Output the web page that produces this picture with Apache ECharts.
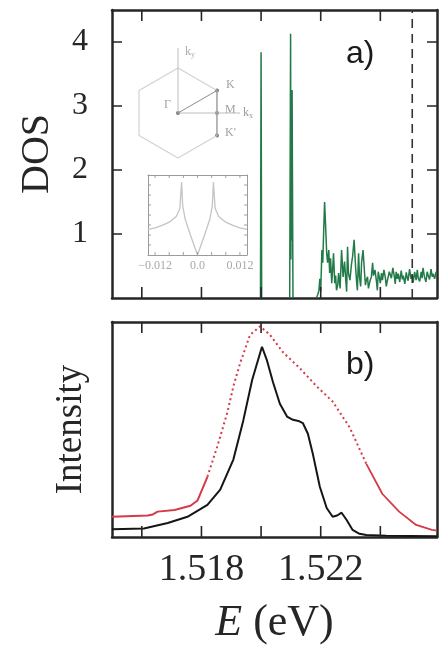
<!DOCTYPE html>
<html>
<head>
<meta charset="utf-8">
<script src="https://cdn.jsdelivr.net/npm/echarts@6/dist/echarts.min.js"></script>
<style>
  html, body { margin: 0; padding: 0; background: #fff; }
  #chart { width: 440px; height: 651px; }
</style>
</head>
<body>
<div id="chart"></div>
<script>
// ---- a) density of states (eV, arbitrary units); null breaks the trace ----
const dosEnergy = [
  1.51998, 1.52000, 1.52002, 1.52030,
  1.52096, 1.52099, 1.52100, 1.52101, 1.52102, 1.52104, 1.52107, 1.52150,
  1.52185, 1.52190, 1.52194, 1.52197, 1.52200, 1.52204, 1.52207, 1.52210, 1.52213, 1.52217, 1.52220,
  1.52223, 1.52227, 1.52230, 1.52233, 1.52237, 1.52240, 1.52243, 1.52247, 1.52250, 1.52253,
  1.52257, 1.52260, 1.52265, 1.52270, 1.52275, 1.52280, 1.52284, 1.52287, 1.52290, 1.52293,
  1.52298, 1.52303, 1.52307, 1.52312, 1.52317, 1.52320, 1.52323, 1.52327, 1.52330, 1.52334,
  1.52337, 1.52342, 1.52347, 1.52350, 1.52353, 1.52357, 1.52360, 1.52365, 1.52370, 1.52374,
  1.52377, 1.52382, 1.52387, 1.52390, 1.52393, 1.52397, 1.52400, 1.52404, 1.52407, 1.52412,
  1.52417, 1.52420, 1.52423, 1.52430, 1.52437, 1.52442, 1.52447, 1.52450, 1.52453, 1.52457,
  1.52460, 1.52465, 1.52470, 1.52474, 1.52477, 1.52482, 1.52487, 1.52490, 1.52493, 1.52498,
  1.52503, 1.52507, 1.52510, 1.52515, 1.52520, 1.52524, 1.52527, 1.52532, 1.52537, 1.52540,
  1.52543, 1.52548, 1.52553, 1.52557, 1.52560, 1.52565, 1.52570, 1.52574, 1.52577, 1.52582, 1.52587
];
const dosValue = [
  0, 3.84, 0, null,
  0, 4.13, 0.6, 1.84, 0.9, 3.25, 0, null,
  0, 0.05, 0.12, 0.30, 0.10, 0.75, 0.55, 1.05, 1.50, 1.06, 0.70,
  0.55, 0.75, 0.39, 0.62, 0.23, 0.45, 0.70, 0.23, 0.35, 0.12,
  0.20, 0.39, 0.15, 0.75, 0.33, 0.57, 0.28, 0.10, 0.80, 0.39,
  0.28, 0.52, 0.65, 0.91, 0.48, 0.28, 0.12, 0.70, 0.33, 0.18,
  0.55, 0.75, 0.39, 0.20, 0.28, 0.33, 0.15, 0.26, 0.33, 0.55,
  0.35, 0.44, 0.26, 0.12, 0.41, 0.31, 0.23, 0.39, 0.28, 0.44,
  0.31, 0.18, 0.26, 0.41, 0.31, 0.47, 0.33, 0.22, 0.41, 0.30,
  0.38, 0.25, 0.43, 0.29, 0.35, 0.22, 0.40, 0.32, 0.27, 0.45,
  0.30, 0.36, 0.24, 0.41, 0.28, 0.44, 0.31, 0.26, 0.41, 0.31,
  0.47, 0.33, 0.25, 0.41, 0.36, 0.29, 0.45, 0.33, 0.38, 0.30, 0.41
];
const gapLine = 1.52507;           // dashed reference energy
const dosRange = [0, 4.5];

// ---- b) emission spectra (normalised) ----
const blackEnergy = [
  1.51500, 1.51607, 1.51687, 1.51753, 1.51820, 1.51863, 1.51907, 1.51940, 1.51970, 1.52003,
  1.52020, 1.52040, 1.52063, 1.52087, 1.52107, 1.52125, 1.52140, 1.52157, 1.52173, 1.52197,
  1.52220, 1.52240, 1.52255, 1.52270, 1.52287, 1.52307, 1.52330, 1.52353, 1.52420, 1.52500, 1.52590
];
const blackValue = [
  0.036, 0.040, 0.065, 0.094, 0.149, 0.220, 0.360, 0.540, 0.730, 0.885,
  0.820, 0.720, 0.620, 0.560, 0.545, 0.540, 0.530, 0.480, 0.390, 0.234,
  0.135, 0.094, 0.100, 0.113, 0.079, 0.033, 0.015, 0.009, 0.006, 0.005, 0.004
];
const redEnergy = [
  1.51500, 1.51620, 1.51637, 1.51653, 1.51710, 1.51763, 1.51787, 1.51820, 1.51853, 1.51887,
  1.51907, 1.51930, 1.51963, 1.51997, 1.52030, 1.52073, 1.52130, 1.52187, 1.52240, 1.52297,
  1.52353, 1.52407, 1.52463, 1.52520, 1.52573, 1.52590
];
const redValue = [
  0.094, 0.100, 0.105, 0.118, 0.126, 0.145, 0.170, 0.280, 0.420, 0.580,
  0.700, 0.810, 0.940, 0.980, 0.940, 0.860, 0.785, 0.700, 0.630, 0.510,
  0.340, 0.200, 0.118, 0.056, 0.033, 0.030
];
const redDottedFrom = 1.5182, redDottedTo = 1.52353;
const intensityRange = [0, 1];

// ---- inset: Brillouin-zone sketch ----
const hexX = [0, 0.866, 0.866, 0, -0.866, -0.866, 0];
const hexY = [1, 0.5, -0.5, -1, -0.5, 0.5, 1];
const bzPointName = ['Γ', 'K', 'M', "K'"];
const bzPointX = [0, 0.866, 0.866, 0.866];
const bzPointY = [0, 0.5, 0, -0.5];

// ---- inset: low-energy DOS ----
const insetE = [-0.014, -0.012, -0.010, -0.008, -0.006, -0.005, -0.0045, -0.0042, -0.0035, -0.002, 0,
                0.002, 0.0035, 0.0042, 0.0045, 0.005, 0.006, 0.008, 0.010, 0.012, 0.014];
const insetV = [0.32, 0.34, 0.37, 0.41, 0.48, 0.58, 0.91, 0.62, 0.45, 0.25, 0,
                0.25, 0.45, 0.62, 0.91, 0.58, 0.48, 0.41, 0.37, 0.34, 0.32];
const insetRangeE = [-0.014, 0.014], insetRangeV = [0, 1];
const insetLabels = [-0.012, 0, 0.012];
const insetXTicks = [-0.012, -0.008, -0.004, 0, 0.004, 0.008, 0.012];
const insetYTicks = [0.125, 0.25, 0.375, 0.5, 0.625, 0.75, 0.875];

// ---- energy axis ----
const eRange = [1.5150, 1.5259];
const xTicks = [1.516, 1.518, 1.520, 1.522, 1.524];
const xLabels = [1.518, 1.522];
const dosTicks = [1, 2, 3, 4];

// ---- layout ----
const gridA = { left: 112, top: 10, width: 325, height: 288 };
const gridB = { left: 112, top: 322, width: 325, height: 215 };
const gridBZ = { left: 124, top: 41, width: 135, height: 126 };
const gridIn = { left: 148, top: 175, width: 99, height: 80 };

const zip = (a, b) => a.map((v, i) => [v, b[i]]);
const serif = 'Liberation Serif';
const ink = '#262626';

const redAll = zip(redEnergy, redValue);
const redSolidLeft = redAll.filter(p => p[0] <= redDottedFrom + 1e-9);
const redDotted = redAll.filter(p => p[0] >= redDottedFrom - 1e-9 && p[0] <= redDottedTo + 1e-9);
const redSolidRight = redAll.filter(p => p[0] >= redDottedTo - 1e-9);

// inward tick marks on two opposite edges, as short broken line segments;
// tick length (px) is turned into data units with the grid size
function tickSegments(dir, values, xr, yr, grid, px) {
  const out = [];
  if (dir === 'x') {
    const d = px * (yr[1] - yr[0]) / grid.height;
    values.forEach(v => {
      out.push([v, yr[0]], [v, yr[0] + d], [v, null], [v, yr[1]], [v, yr[1] - d], [v, null]);
    });
  } else {
    const d = px * (xr[1] - xr[0]) / grid.width;
    values.forEach(v => {
      out.push([xr[0], v], [xr[0] + d, v], [xr[0], null], [xr[1], v], [xr[1] - d, v], [xr[1], null]);
    });
  }
  return out;
}
const tickSeries = (xi, yi, data, color, width) => ({
  type: 'line', xAxisIndex: xi, yAxisIndex: yi, data: data, showSymbol: false,
  connectNulls: false, silent: true, z: 4, clip: false,
  lineStyle: { color: color, width: width }
});

// one side of a plot frame
const side = (grid, pos, range, opt) => {
  opt = opt || {};
  return Object.assign({
    type: 'value', gridIndex: grid, position: pos, min: range[0], max: range[1],
    axisLine: { show: true, onZero: false, lineStyle: { color: opt.color || ink, width: opt.lineWidth || 2.5 } },
    splitLine: { show: false },
    axisTick: { show: false },
    axisLabel: { show: false }
  }, opt.extra || {});
};
const inset = { color: '#9a9a9a', lineWidth: 1 };

const chart = echarts.init(document.getElementById('chart'), null, { renderer: 'canvas' });
chart.setOption({
  backgroundColor: '#fff',
  animation: false,
  grid: [gridA, gridB, gridBZ, gridIn],
  xAxis: [
    side(0, 'bottom', eRange),
    side(0, 'top', eRange),
    side(1, 'bottom', eRange, { extra: {
      axisLabel: {
        show: true, customValues: xLabels, margin: 14,
        formatter: v => v.toFixed(3),
        fontFamily: serif, fontSize: 38, color: ink
      },
      name: '{i|E} (eV)', nameLocation: 'middle', nameGap: 64,
      nameTextStyle: {
        fontFamily: serif, fontSize: 44, color: ink,
        rich: { i: { fontFamily: serif, fontStyle: 'italic', fontSize: 44, color: ink } }
      }
    } }),
    side(1, 'top', eRange),
    { type: 'value', gridIndex: 2, min: -1.2, max: 1.8, show: false },
    side(3, 'bottom', insetRangeE, Object.assign({}, inset, { extra: {
      axisLabel: {
        show: true, customValues: insetLabels, margin: 5,
        formatter: v => (Math.abs(v) < 1e-9 ? '0.0' : (v < 0 ? '\u2212' : '') + Math.abs(v).toFixed(3)),
        fontFamily: serif, fontSize: 12, color: '#a8a8a8'
      }
    } })),
    side(3, 'top', insetRangeE, inset)
  ],
  yAxis: [
    side(0, 'left', dosRange, { extra: {
      axisLabel: { show: true, customValues: dosTicks, margin: 24, fontFamily: serif, fontSize: 32, color: ink },
      name: 'DOS', nameLocation: 'middle', nameGap: 55,
      nameTextStyle: { fontFamily: serif, fontSize: 40, color: ink }
    } }),
    side(0, 'right', dosRange),
    side(1, 'left', intensityRange, { extra: {
      name: 'Intensity', nameLocation: 'middle', nameGap: 22,
      nameTextStyle: { fontFamily: serif, fontSize: 37, color: ink }
    } }),
    side(1, 'right', intensityRange),
    { type: 'value', gridIndex: 2, min: -1.2, max: 1.6, show: false },
    side(3, 'left', insetRangeV, inset),
    side(3, 'right', insetRangeV, inset)
  ],
  graphic: [
    { type: 'text', left: 346, top: 38, style: { text: 'a)', font: '32px "Liberation Sans", Arial, sans-serif', fill: '#1a1a1a' } },
    { type: 'text', left: 346, top: 349, style: { text: 'b)', font: '32px "Liberation Sans", Arial, sans-serif', fill: '#1a1a1a' } }
  ],
  series: [
    // frame ticks
    tickSeries(0, 0, tickSegments('x', xTicks, eRange, dosRange, gridA, 11), ink, 1.6),
    tickSeries(0, 0, tickSegments('y', dosTicks, eRange, dosRange, gridA, 10), ink, 1.6),
    tickSeries(2, 2, tickSegments('x', xTicks, eRange, intensityRange, gridB, 11), ink, 1.6),
    tickSeries(5, 5, tickSegments('x', insetXTicks, insetRangeE, insetRangeV, gridIn, 3), '#a0a0a0', 1),
    tickSeries(5, 5, tickSegments('y', insetYTicks, insetRangeE, insetRangeV, gridIn, 3), '#a0a0a0', 1),
    // a) DOS trace
    {
      type: 'line', xAxisIndex: 0, yAxisIndex: 0, data: zip(dosEnergy, dosValue),
      showSymbol: false, connectNulls: false,
      lineStyle: { color: '#227a48', width: 1.5 }
    },
    // a) dashed vertical marker
    {
      type: 'line', xAxisIndex: 0, yAxisIndex: 0, showSymbol: false, silent: true,
      data: [[gapLine, dosRange[0]], [gapLine, dosRange[1]]],
      lineStyle: { type: [9, 6], color: '#333', width: 1.6 }
    },
    // b) spectra
    {
      type: 'line', xAxisIndex: 2, yAxisIndex: 2, data: redSolidLeft, showSymbol: false,
      lineStyle: { color: '#d43a48', width: 2 }
    },
    {
      type: 'line', xAxisIndex: 2, yAxisIndex: 2, data: redDotted, showSymbol: false,
      lineStyle: { color: '#d43a48', width: 2, type: [2, 3] }
    },
    {
      type: 'line', xAxisIndex: 2, yAxisIndex: 2, data: redSolidRight, showSymbol: false,
      lineStyle: { color: '#d43a48', width: 1.8 }
    },
    {
      type: 'line', xAxisIndex: 2, yAxisIndex: 2, data: zip(blackEnergy, blackValue), showSymbol: false,
      lineStyle: { color: '#151515', width: 2 }
    },
    // Brillouin zone sketch
    {
      type: 'line', xAxisIndex: 4, yAxisIndex: 4, data: zip(hexX, hexY), showSymbol: false,
      lineStyle: { color: '#d2d2d2', width: 1.2 }, silent: true
    },
    {
      type: 'line', xAxisIndex: 4, yAxisIndex: 4, data: [[0, 0], [1.38, 0]], showSymbol: false,
      lineStyle: { color: '#bdbdbd', width: 1 }, silent: true,
      endLabel: { show: true, formatter: 'k{s|x}', fontFamily: serif, fontSize: 12, color: '#999', distance: 3, rich: { s: { fontSize: 8, verticalAlign: 'bottom', padding: [6, 0, 0, 0] } } }
    },
    {
      type: 'line', xAxisIndex: 4, yAxisIndex: 4, data: [[0, 0], [0, 1.44]], showSymbol: false,
      lineStyle: { color: '#bdbdbd', width: 1 }, silent: true
    },
    {
      type: 'line', xAxisIndex: 4, yAxisIndex: 4, data: [[0, 0], [0.866, 0.5], [0.866, 0], [0.866, -0.5]], showSymbol: false,
      lineStyle: { color: '#8c8c8c', width: 1 }, silent: true
    },
    {
      type: 'scatter', xAxisIndex: 4, yAxisIndex: 4, symbolSize: 4, silent: true,
      itemStyle: { color: '#555' },
      data: bzPointName.map((n, i) => ({
        value: [bzPointX[i], bzPointY[i]],
        label: {
          show: true, formatter: n, fontFamily: serif, fontSize: 12, color: '#8a8a8a',
          position: i === 0 ? 'left' : 'right', offset: i === 0 ? [0, -8] : (i === 1 ? [2, -6] : [1, -3])
        }
      }))
    },
    {
      type: 'scatter', xAxisIndex: 4, yAxisIndex: 4, symbolSize: 0, silent: true,
      data: [[0, 1.44]],
      label: { show: true, position: 'right', offset: [2, 4], formatter: 'k{s|y}', fontFamily: serif, fontSize: 12, color: '#999', rich: { s: { fontSize: 8, verticalAlign: 'bottom', padding: [6, 0, 0, 0] } } }
    },
    // inset low-energy DOS
    {
      type: 'line', xAxisIndex: 5, yAxisIndex: 5, data: zip(insetE, insetV), showSymbol: false,
      lineStyle: { color: '#c4c4c4', width: 1.3 }, silent: true
    }
  ]
});
</script>
</body>
</html>
